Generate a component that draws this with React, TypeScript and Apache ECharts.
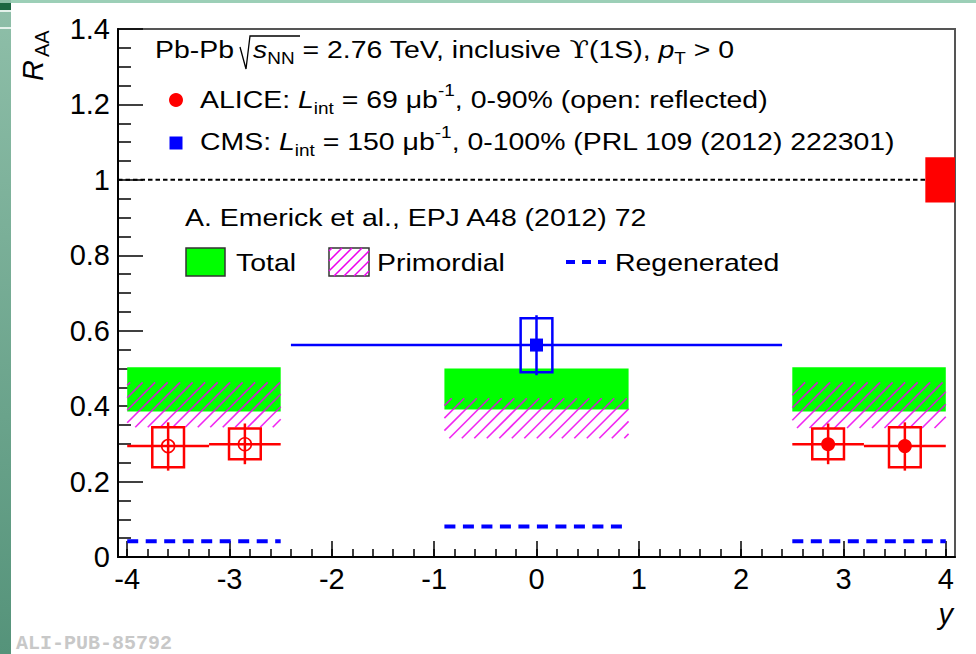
import React, { useEffect, useRef } from 'react';
import * as echarts from 'echarts';

// ---------- axis ranges & tick labels ----------
const X_MIN = -4.09;
const X_MAX = 4.09;
const Y_MIN = 0;
const Y_MAX = 1.4;
const Y_STEP = 0.2;
const xMajorTicks = [-4, -3, -2, -1, 0, 1, 2, 3, 4];

// ---------- ALICE data (open = reflected) ----------
const aliceY = [-3.6, -2.85, 2.85, 3.6];
const aliceBinLo = [-4.0, -3.2, 2.5, 3.2];
const aliceBinHi = [-3.2, -2.5, 3.2, 4.0];
const aliceR = [0.294, 0.299, 0.299, 0.294];
const aliceStatLo = [0.229, 0.246, 0.246, 0.229];
const aliceStatHi = [0.357, 0.354, 0.354, 0.357];
const aliceSysLo = [0.238, 0.259, 0.259, 0.238];
const aliceSysHi = [0.344, 0.341, 0.341, 0.344];
const aliceOpen = [1, 1, 0, 0];

// ---------- CMS data ----------
const cmsY = [0];
const cmsBinLo = [-2.4];
const cmsBinHi = [2.4];
const cmsR = [0.562];
const cmsStatLo = [0.482];
const cmsStatHi = [0.641];
const cmsSysLo = [0.49];
const cmsSysHi = [0.633];

// ---------- model (Emerick et al.) ----------
const modelLo = [-4.0, -0.9, 2.5];
const modelHi = [-2.5, 0.9, 4.0];
const totalLo = [0.386, 0.391, 0.386];
const totalHi = [0.503, 0.5, 0.503];
const primLo = [0.344, 0.315, 0.342];
const primHi = [0.463, 0.421, 0.463];
const regen = [0.042, 0.081, 0.042];

// ---------- global uncertainty ----------
const globalRef = [1];
const globalUnc = [0.06];
const globalFrom = [3.8];

// ---------- styling constants ----------
const BOX_HALF = 0.155;
const FONT = 'Liberation Sans, Arial, Helvetica, DejaVu Sans, sans-serif';
const RED = '#ff0000';
const BLUE = '#0000ff';
const MAG = '#ee00ee';
const M = 24;
const SUBF = 16;
const SX = 1.185;
const LH = 34;

const xMinorTicks: number[] = [];
for (let k = 0; k <= 40; k++) xMinorTicks.push(Math.round((-4 + k * 0.2) * 10) / 10);

function hatch(x0: number, y0: number, x1: number, y1: number, step: number) {
  const segs: number[][] = [];
  const cStart = Math.floor((x0 + y0) / step) * step;
  for (let c = cStart; c <= x1 + y1 + step; c += step) {
    const xa = Math.max(x0, c - y1);
    const xb = Math.min(x1, c - y0);
    if (xb > xa + 0.5) segs.push([xa, c - xa, xb, c - xb]);
  }
  return segs;
}

const RICH: any = {
  n: { fontSize: M, fontFamily: FONT, fill: '#000', lineHeight: LH, verticalAlign: 'middle' },
  i: { fontSize: M, fontFamily: FONT, fill: '#000', lineHeight: LH, verticalAlign: 'middle', fontStyle: 'italic' },
  ups: { fontSize: M, fontFamily: 'DejaVu Serif, serif', fill: '#000', lineHeight: LH, verticalAlign: 'middle' },
  sub: { fontSize: SUBF, fontFamily: FONT, fill: '#000', lineHeight: 10, verticalAlign: 'bottom' },
  subN: { fontSize: SUBF, fontFamily: FONT, fill: '#000', lineHeight: 4, verticalAlign: 'bottom' },
  subT: { fontSize: SUBF, fontFamily: FONT, fill: '#000', lineHeight: 2, verticalAlign: 'bottom' },
  sup: { fontSize: SUBF, fontFamily: FONT, fill: '#000', lineHeight: 20, verticalAlign: 'top' },
};

function txt(x: number, y: number, text: string) {
  return {
    type: 'text',
    x,
    y,
    scaleX: SX,
    silent: true,
    style: { text, rich: RICH, align: 'left', verticalAlign: 'middle' },
  };
}

export default function App() {
  const ref = useRef<HTMLDivElement>(null);

  useEffect(() => {
    if (!ref.current) return;
    const chart = echarts.init(ref.current, null, { renderer: 'svg' });

    const legendHatch = hatch(329, 248, 369, 276, 10).map((s) => ({
      type: 'line',
      silent: true,
      shape: { x1: s[0], y1: s[1], x2: s[2], y2: s[3] },
      style: { stroke: MAG, lineWidth: 1.5 },
    }));

    const option: any = {
      animation: false,
      backgroundColor: '#ffffff',
      grid: {
        left: 118,
        right: 21,
        top: 29,
        bottom: 97,
        show: true,
        borderColor: '#555',
        borderWidth: 2,
        backgroundColor: 'transparent',
        outerBoundsMode: 'none',
      },
      xAxis: [
        {
          type: 'value',
          min: X_MIN,
          max: X_MAX,
          position: 'bottom',
          axisLine: { show: true, onZero: false, lineStyle: { color: '#000', width: 2 } },
          axisTick: {
            show: true,
            inside: true,
            length: 16,
            customValues: xMajorTicks,
            lineStyle: { color: '#000', width: 1.5 },
          },
          axisLabel: {
            show: true,
            customValues: xMajorTicks,
            fontSize: 29,
            fontFamily: FONT,
            color: '#000',
            margin: 7,
          },
          splitLine: { show: false },
        },
        {
          type: 'value',
          min: X_MIN,
          max: X_MAX,
          position: 'bottom',
          axisLine: { show: false },
          axisTick: {
            show: true,
            inside: true,
            length: 8,
            customValues: xMinorTicks,
            lineStyle: { color: '#000', width: 1.5 },
          },
          axisLabel: { show: false },
          splitLine: { show: false },
        },
      ],
      yAxis: {
        type: 'value',
        min: Y_MIN,
        max: Y_MAX,
        interval: Y_STEP,
        axisLine: { show: true, onZero: false, lineStyle: { color: '#000', width: 2 } },
        axisTick: { show: true, inside: true, length: 25, lineStyle: { color: '#000', width: 1.5 } },
        minorTick: { show: true, splitNumber: 4, length: 13, lineStyle: { color: '#000', width: 1.5 } },
        axisLabel: { fontSize: 29, fontFamily: FONT, color: '#000', margin: 8 },
        splitLine: { show: false },
        minorSplitLine: { show: false },
      },
      series: [
        {
          type: 'custom',
          name: 'Total',
          z: 1,
          silent: true,
          data: modelLo.map((lo, i) => [lo, modelHi[i], totalLo[i], totalHi[i]]),
          encode: { x: [0, 1], y: [2, 3] },
          renderItem: (params: any, api: any) => {
            const p0 = api.coord([api.value(0), api.value(3)]);
            const p1 = api.coord([api.value(1), api.value(2)]);
            return {
              type: 'rect',
              shape: { x: p0[0], y: p0[1], width: p1[0] - p0[0], height: p1[1] - p0[1] },
              style: { fill: '#00ff00' },
            };
          },
        },
        {
          type: 'custom',
          name: 'Primordial',
          z: 2,
          silent: true,
          data: modelLo.map((lo, i) => [lo, modelHi[i], primLo[i], primHi[i]]),
          encode: { x: [0, 1], y: [2, 3] },
          renderItem: (params: any, api: any) => {
            const p0 = api.coord([api.value(0), api.value(3)]);
            const p1 = api.coord([api.value(1), api.value(2)]);
            const segs = hatch(p0[0], p0[1], p1[0], p1[1], 12.5);
            return {
              type: 'group',
              children: segs.map((s) => ({
                type: 'line',
                shape: { x1: s[0], y1: s[1], x2: s[2], y2: s[3] },
                style: { stroke: MAG, lineWidth: 1.6, opacity: 0.85 },
              })),
            };
          },
        },
        {
          type: 'custom',
          name: 'Regenerated',
          z: 3,
          silent: true,
          data: modelLo.map((lo, i) => [lo, modelHi[i], regen[i]]),
          encode: { x: [0, 1], y: [2] },
          renderItem: (params: any, api: any) => {
            const a = api.coord([api.value(0), api.value(2)]);
            const b = api.coord([api.value(1), api.value(2)]);
            return {
              type: 'line',
              shape: { x1: a[0], y1: a[1], x2: b[0], y2: b[1] },
              style: { stroke: BLUE, lineWidth: 4, lineDash: [11, 7.5] },
            };
          },
        },
        {
          type: 'line',
          name: 'unity',
          z: 3,
          silent: true,
          symbol: 'none',
          data: [
            [X_MIN, 1],
            [X_MAX, 1],
          ],
          lineStyle: { color: '#000', width: 2, type: [4.5, 3] },
        },
        {
          type: 'custom',
          name: 'CMS',
          z: 4,
          silent: true,
          data: cmsY.map((x, i) => [x, cmsR[i], cmsBinLo[i], cmsBinHi[i], cmsStatLo[i], cmsStatHi[i], cmsSysLo[i], cmsSysHi[i]]),
          encode: { x: [0, 2, 3], y: [1, 4, 5, 6, 7] },
          renderItem: (params: any, api: any) => {
            const x = api.value(0);
            const r = api.value(1);
            const c = api.coord([x, r]);
            const h0 = api.coord([api.value(2), r]);
            const h1 = api.coord([api.value(3), r]);
            const s0 = api.coord([x, api.value(4)]);
            const s1 = api.coord([x, api.value(5)]);
            const b0 = api.coord([x - BOX_HALF, api.value(7)]);
            const b1 = api.coord([x + BOX_HALF, api.value(6)]);
            return {
              type: 'group',
              children: [
                { type: 'rect', shape: { x: b0[0], y: b0[1], width: b1[0] - b0[0], height: b1[1] - b0[1] }, style: { fill: 'none', stroke: BLUE, lineWidth: 2.5 } },
                { type: 'line', shape: { x1: h0[0], y1: h0[1], x2: h1[0], y2: h1[1] }, style: { stroke: BLUE, lineWidth: 2.5 } },
                { type: 'line', shape: { x1: s0[0], y1: s0[1], x2: s1[0], y2: s1[1] }, style: { stroke: BLUE, lineWidth: 2.5 } },
                { type: 'rect', shape: { x: c[0] - 6.5, y: c[1] - 6.5, width: 13, height: 13 }, style: { fill: BLUE } },
              ],
            };
          },
        },
        {
          type: 'custom',
          name: 'ALICE',
          z: 5,
          silent: true,
          data: aliceY.map((x, i) => [x, aliceR[i], aliceBinLo[i], aliceBinHi[i], aliceStatLo[i], aliceStatHi[i], aliceSysLo[i], aliceSysHi[i], aliceOpen[i]]),
          encode: { x: [0, 2, 3], y: [1, 4, 5, 6, 7] },
          renderItem: (params: any, api: any) => {
            const x = api.value(0);
            const r = api.value(1);
            const open = api.value(8) === 1;
            const c = api.coord([x, r]);
            const h0 = api.coord([api.value(2), r]);
            const h1 = api.coord([api.value(3), r]);
            const s0 = api.coord([x, api.value(4)]);
            const s1 = api.coord([x, api.value(5)]);
            const b0 = api.coord([x - BOX_HALF, api.value(7)]);
            const b1 = api.coord([x + BOX_HALF, api.value(6)]);
            return {
              type: 'group',
              children: [
                { type: 'rect', shape: { x: b0[0], y: b0[1], width: b1[0] - b0[0], height: b1[1] - b0[1] }, style: { fill: 'none', stroke: RED, lineWidth: 2.5 } },
                { type: 'line', shape: { x1: h0[0], y1: h0[1], x2: h1[0], y2: h1[1] }, style: { stroke: RED, lineWidth: 2.5 } },
                { type: 'line', shape: { x1: s0[0], y1: s0[1], x2: s1[0], y2: s1[1] }, style: { stroke: RED, lineWidth: 2.5 } },
                open
                  ? { type: 'circle', shape: { cx: c[0], cy: c[1], r: 6.5 }, style: { fill: 'none', stroke: RED, lineWidth: 1.5 } }
                  : { type: 'circle', shape: { cx: c[0], cy: c[1], r: 7 }, style: { fill: RED } },
              ],
            };
          },
        },
        {
          type: 'custom',
          name: 'global',
          z: 6,
          silent: true,
          data: globalRef.map((g, i) => [globalFrom[i], X_MAX, g - globalUnc[i], g + globalUnc[i]]),
          encode: { x: [0, 1], y: [2, 3] },
          renderItem: (params: any, api: any) => {
            const p0 = api.coord([api.value(0), api.value(3)]);
            const p1 = api.coord([api.value(1), api.value(2)]);
            return {
              type: 'rect',
              shape: { x: p0[0], y: p0[1], width: p1[0] - p0[0], height: p1[1] - p0[1] },
              style: { fill: RED },
            };
          },
        },
      ],
      graphic: {
        elements: [
          // slide background edges
          { type: 'rect', silent: true, shape: { x: 0, y: 0, width: 976, height: 3 }, style: { fill: '#9ccfb7' } },
          {
            type: 'rect',
            silent: true,
            shape: { x: 0, y: 0, width: 11, height: 654 },
            style: {
              fill: new echarts.graphic.LinearGradient(0, 0, 0, 1, [
                { offset: 0, color: '#8fbfa9' },
                { offset: 1, color: '#55937a' },
              ]),
            },
          },
          { type: 'rect', silent: true, shape: { x: 0, y: 3, width: 11, height: 7 }, style: { fill: '#1d6642' } },
          { type: 'rect', silent: true, shape: { x: 0, y: 10, width: 11, height: 2 }, style: { fill: '#e3f1ea' } },
          { type: 'rect', silent: true, shape: { x: 0, y: 27, width: 11, height: 2 }, style: { fill: '#e3f1ea' } },

          // axis titles
          {
            type: 'text',
            silent: true,
            x: 33,
            y: 81,
            rotation: Math.PI / 2,
            style: { text: 'R', fontSize: 29, fontStyle: 'italic', fontFamily: FONT, fill: '#000', align: 'left', verticalAlign: 'middle' },
          },
          {
            type: 'text',
            silent: true,
            x: 42,
            y: 57,
            rotation: Math.PI / 2,
            style: { text: 'AA', fontSize: 20, fontFamily: FONT, fill: '#000', align: 'left', verticalAlign: 'middle' },
          },
          {
            type: 'text',
            silent: true,
            x: 953,
            y: 614,
            style: { text: 'y', fontSize: 29, fontStyle: 'italic', fontFamily: FONT, fill: '#000', align: 'right', verticalAlign: 'middle' },
          },

          // header texts
          txt(155, 49.7, '{n|Pb-Pb}'),
          {
            type: 'polyline',
            silent: true,
            shape: { points: [[240, 47], [246, 69], [250, 36], [300, 36]] },
            style: { stroke: '#000', lineWidth: 1.3, fill: 'none' },
          },
          txt(253, 49.7, '{i|s}{subN|NN}{n| = 2.76 TeV, inclusive }{ups|ϒ}{n|(1S), }{i|p}{subT|T}{n| > 0}'),

          { type: 'circle', silent: true, shape: { cx: 176, cy: 100, r: 7 }, style: { fill: RED } },
          txt(200, 99.7, '{n|ALICE: }{i|L}{sub|int}{n| = 69 μb}{sup|-1}{n|, 0-90% (open: reflected)}'),

          { type: 'rect', silent: true, shape: { x: 169.5, y: 136.5, width: 13, height: 13 }, style: { fill: BLUE } },
          txt(200, 141.7, '{n|CMS: }{i|L}{sub|int}{n| = 150 μb}{sup|-1}{n|, 0-100% (PRL 109 (2012) 222301)}'),

          txt(185, 217.7, '{n|A. Emerick et al., EPJ A48 (2012) 72}'),

          { type: 'rect', silent: true, shape: { x: 186, y: 248, width: 39, height: 28 }, style: { fill: '#00ff00', stroke: '#333', lineWidth: 1.5 } },
          txt(236, 263, '{n|Total}'),

          { type: 'rect', silent: true, shape: { x: 329, y: 248, width: 40, height: 28 }, style: { fill: '#fff', stroke: '#333', lineWidth: 1.5 } },
          ...legendHatch,
          txt(377, 263, '{n|Primordial}'),

          { type: 'line', silent: true, shape: { x1: 566, y1: 262, x2: 606, y2: 262 }, style: { stroke: BLUE, lineWidth: 4, lineDash: [9, 7] } },
          txt(615, 263, '{n|Regenerated}'),

          // publication tag
          {
            type: 'text',
            silent: true,
            x: 16,
            y: 643,
            style: {
              text: 'ALI-PUB-85792',
              fontSize: 20,
              fontWeight: 'bold',
              fontFamily: 'Liberation Mono, DejaVu Sans Mono, monospace',
              fill: '#c8c8c8',
              align: 'left',
              verticalAlign: 'middle',
            },
          },
        ],
      },
    };

    chart.setOption(option);
    return () => {
      chart.dispose();
    };
  }, []);

  return (
    <div
      ref={ref}
      style={{ position: 'absolute', left: 0, top: 0, width: 976, height: 654, background: '#fff' }}
    />
  );
}
